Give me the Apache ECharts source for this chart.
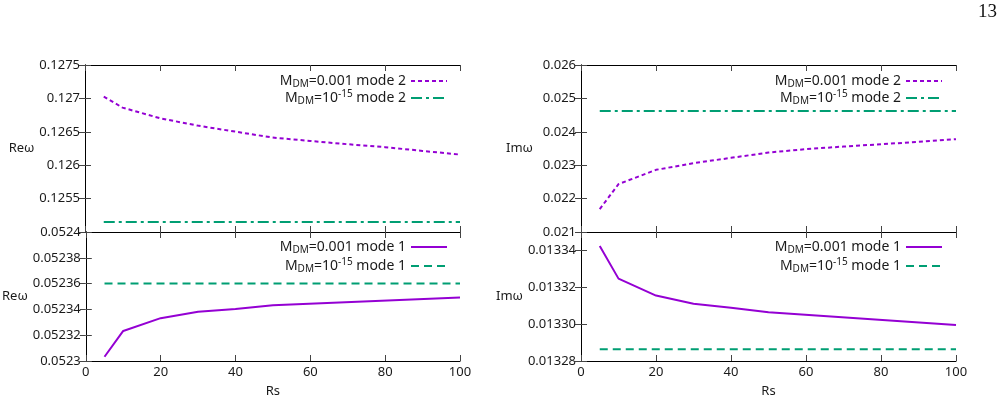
<!DOCTYPE html>
<html>
<head>
<meta charset="utf-8">
<script src="https://cdn.jsdelivr.net/npm/echarts@6/dist/echarts.min.js"></script>
<style>
  html, body { margin: 0; padding: 0; background: #fff; }
  #chart { width: 1003px; height: 406px; }
</style>
</head>
<body>
<div id="chart"></div>
<script>
// Rs values of the sampled points
const rsMode2 = [5, 10, 20, 30, 40, 50, 60, 70, 80, 90, 100];
const rsMode1 = [5, 10, 20, 30, 40, 50, 100];
const rsFlat = [5, 100];

// Re(omega)
const reMode2Dm = [0.127026, 0.126862, 0.126703, 0.126593, 0.126503, 0.126414, 0.126364, 0.126314, 0.12627, 0.126214, 0.126159];
const reMode2Base = [0.12515, 0.12515];
const reMode1Dm = [0.0523033, 0.0523233, 0.0523332, 0.0523381, 0.0523404, 0.0523433, 0.0523492];
const reMode1Base = [0.05236, 0.05236];

// Im(omega)
const imMode2Dm = [0.021685, 0.022433, 0.022861, 0.02306, 0.02322, 0.023379, 0.02348, 0.023558, 0.023628, 0.023698, 0.023778];
const imMode2Base = [0.024625, 0.024625];
const imMode1Dm = [0.0133424, 0.0133247, 0.0133155, 0.0133111, 0.0133089, 0.0133064, 0.0132996];
const imMode1Base = [0.0132864, 0.0132864];

// axis ranges [min, max, interval]
const xRange = [0, 100, 20];
const reTopRange = [0.125, 0.1275, 0.0005];
const reBotRange = [0.0523, 0.0524, 0.00002];
const imTopRange = [0.021, 0.026, 0.001];
const imBotRange = [0.01328, 0.01335, 0.00002];

const PURPLE = '#9400d3';
const GREEN = '#009e73';
const FONT = 'Noto Sans';
const TXT = '#1a1a1a';

const legendNames = {
  dm2: '{t|M}{s|DM}{t|=0.001 mode 2}',
  base2: '{t|M}{s|DM}{t|=10}{p|-15}{t| mode 2}',
  dm1: '{t|M}{s|DM}{t|=0.001 mode 1}',
  base1: '{t|M}{s|DM}{t|=10}{p|-15}{t| mode 1}'
};

const pair = (xs, ys) => xs.map((x, i) => [x, ys[i]]);

const grids = [
  { left: 85, top: 65, width: 375, height: 167 },
  { left: 85, top: 232, width: 375, height: 129 },
  { left: 581, top: 65, width: 375, height: 167 },
  { left: 581, top: 232, width: 375, height: 129 }
];

const lineAxis = { show: true, lineStyle: { color: '#000', width: 1 } };
const tick = { show: true, inside: true, length: 6, lineStyle: { color: '#444' } };
const labelStyle = { fontFamily: FONT, fontSize: 13, color: TXT };

const xAxes = [];
const yAxes = [];
grids.forEach((g, i) => {
  const lower = i % 2 === 1;
  ['bottom', 'top'].forEach(pos => {
    xAxes.push({
      gridIndex: i, type: 'value', position: pos,
      min: xRange[0], max: xRange[1], interval: xRange[2],
      axisLine: lineAxis, axisTick: tick, splitLine: { show: false },
      axisLabel: Object.assign({ show: lower && pos === 'bottom', margin: 5 }, labelStyle),
      name: lower && pos === 'bottom' ? 'Rs' : '',
      nameLocation: 'middle', nameGap: 24,
      nameTextStyle: labelStyle
    });
  });
});

const yRanges = [reTopRange, reBotRange, imTopRange, imBotRange];
const yNames = ['Reω', 'Reω', 'Imω', 'Imω'];
const yNameGaps = [47, 52, 48, 51];
yRanges.forEach((r, i) => {
  const fmt = i === 3 ? (v => v.toFixed(5)) : null;
  ['left', 'right'].forEach(pos => {
    const label = Object.assign({ show: pos === 'left', margin: 5 }, labelStyle);
    if (fmt) label.formatter = fmt;
    if (i === 0) label.showMinLabel = false;
    if (i === 3) label.showMaxLabel = false;
    yAxes.push({
      gridIndex: i, type: 'value', position: pos,
      min: r[0], max: r[1], interval: r[2],
      axisLine: lineAxis, axisTick: tick, splitLine: { show: false },
      axisLabel: label,
      name: pos === 'left' ? yNames[i] : '',
      nameLocation: 'middle', nameRotate: 0, nameGap: yNameGaps[i],
      nameTextStyle: labelStyle
    });
  });
});

const mk = (id, gi, data, color, type) => ({
  id: id, name: id, type: 'line', data: data,
  xAxisIndex: gi * 2, yAxisIndex: gi * 2,
  symbol: 'none', showSymbol: false,
  lineStyle: { color: color, width: 2, type: type },
  itemStyle: { color: color }
});

const dotted = [4, 3];
const dashDot = [11, 4, 3, 4];
const dashed = [8, 5];

const series = [
  mk('L_dm2', 0, pair(rsMode2, reMode2Dm), PURPLE, dotted),
  mk('L_base2', 0, pair(rsFlat, reMode2Base), GREEN, dashDot),
  mk('L_dm1', 1, pair(rsMode1, reMode1Dm), PURPLE, 'solid'),
  mk('L_base1', 1, pair(rsFlat, reMode1Base), GREEN, dashed),
  mk('R_dm2', 2, pair(rsMode2, imMode2Dm), PURPLE, dotted),
  mk('R_base2', 2, pair(rsFlat, imMode2Base), GREEN, dashDot),
  mk('R_dm1', 3, pair(rsMode1, imMode1Dm), PURPLE, 'solid'),
  mk('R_base1', 3, pair(rsFlat, imMode1Base), GREEN, dashed)
];

const rich = {
  t: { fontFamily: FONT, fontSize: 14, color: TXT, lineHeight: 17, verticalAlign: 'middle' },
  s: { fontFamily: FONT, fontSize: 10, color: TXT, lineHeight: 9, verticalAlign: 'bottom' },
  p: { fontFamily: FONT, fontSize: 10, color: TXT, lineHeight: 9, verticalAlign: 'top' }
};

const mkLegend = (ids, right, top, gap) => ({
  orient: 'vertical', align: 'right', right: right, top: top,
  padding: 0, itemGap: gap, itemWidth: 36, itemHeight: 14,
  selectedMode: false, data: ids,
  itemStyle: { opacity: 0 },
  formatter: name => legendNames[name.split('_')[1]],
  textStyle: { rich: rich }
});

const chart = echarts.init(document.getElementById('chart'));
chart.setOption({
  animation: false,
  grid: grids,
  xAxis: xAxes,
  yAxis: yAxes,
  legend: [
    mkLegend(['L_dm2', 'L_base2'], 555, 74, 0),
    mkLegend(['L_dm1', 'L_base1'], 555, 240, 2),
    mkLegend(['R_dm2', 'R_base2'], 60, 74, 0),
    mkLegend(['R_dm1', 'R_base1'], 60, 240, 2)
  ],
  graphic: [{
    type: 'text', right: 6, top: 3,
    style: { text: '13', font: '19px "Liberation Serif"', fill: '#111' }
  }],
  series: series
});
</script>
</body>
</html>
